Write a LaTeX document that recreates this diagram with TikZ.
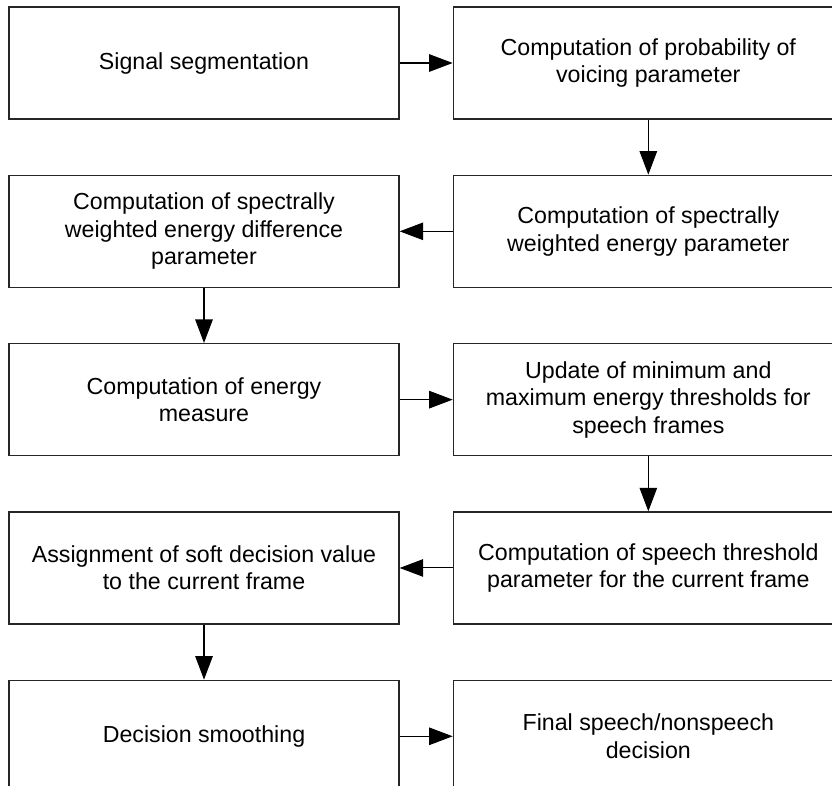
\documentclass[tikz,border=0pt]{standalone}
\usepackage{fontspec}
\setmainfont{Liberation Sans}
\usetikzlibrary{arrows.meta,positioning}

\begin{document}
\begin{tikzpicture}[>={Triangle[length=0.47cm,width=0.35cm]},line join=miter,
  blockbox/.style={draw=black!85,line width=0.75pt,minimum width=7.8cm,
    minimum height=2.24cm,align=center,inner sep=0pt,
    font=\fontsize{13.2}{15.6}\selectfont},
  flow/.style={->,draw=black,line width=0.6pt}]

  % ---- page frame (boxes of the last row and right column run past it) --
  \useasboundingbox (0,0) rectangle (16.64,-15.70);

  % ---- row 1 --------------------------------------------------------------
  \node[blockbox] (seg) at (4.08,-1.26) {Signal segmentation};
  \node[blockbox,right=1.06cm of seg] (voic)
        {Computation of probability of\\voicing parameter};

  % ---- row 2 --------------------------------------------------------------
  \node[blockbox,below=1.1cm of voic] (swe)
        {Computation of spectrally\\weighted energy parameter};
  \node[blockbox,below=1.1cm of seg] (swed)
        {Computation of spectrally\\weighted energy difference\\parameter};

  % ---- row 3 --------------------------------------------------------------
  \node[blockbox,below=1.1cm of swed] (emeas)
        {Computation of energy\\measure};
  \node[blockbox,below=1.1cm of swe] (thr)
        {Update of minimum and\\maximum energy thresholds for\\speech frames};

  % ---- row 4 --------------------------------------------------------------
  \node[blockbox,below=1.1cm of thr] (sthr)
        {Computation of speech threshold\\parameter for the current frame};
  \node[blockbox,below=1.1cm of emeas] (soft)
        {Assignment of soft decision value\\to the current frame};

  % ---- row 5 --------------------------------------------------------------
  \node[blockbox,below=1.1cm of soft] (smooth) {Decision smoothing};
  \node[blockbox,below=1.1cm of sthr] (final)
        {Final speech/nonspeech\\decision};

  % ---- connectors -----------------------------------------------------------
  \draw[flow] (seg) -- (voic);
  \draw[flow] (voic) -- (swe);
  \draw[flow] (swe) -- (swed);
  \draw[flow] (swed) -- (emeas);
  \draw[flow] (emeas) -- (thr);
  \draw[flow] (thr) -- (sthr);
  \draw[flow] (sthr) -- (soft);
  \draw[flow] (soft) -- (smooth);
  \draw[flow] (smooth) -- (final);

\end{tikzpicture}
\end{document}
